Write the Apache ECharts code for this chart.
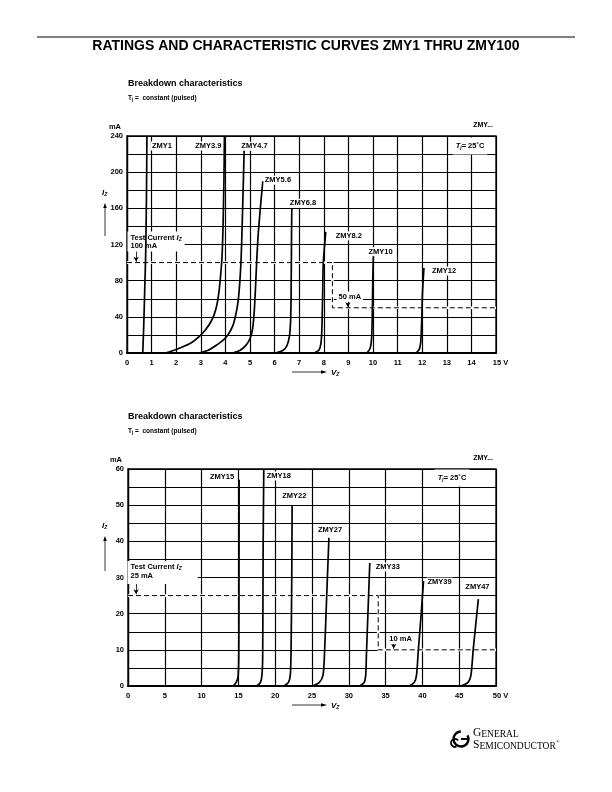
<!DOCTYPE html>
<html><head><meta charset="utf-8">
<script src="https://cdn.jsdelivr.net/npm/echarts@6/dist/echarts.min.js"></script>
<style>html,body{margin:0;padding:0;background:#fff}#c{width:612px;height:792px}</style>
</head><body><div id="c"></div>
<script>
// ---------- data: chart 1 (ZMY1 ... ZMY12), x in V, y in mA ----------
const xTicks1 = [0,1,2,3,4,5,6,7,8,9,10,11,12,13,14,15];
const yTicks1 = [0,40,80,120,160,200,240];
const names1 = ['ZMY1','ZMY3.9','ZMY4.7','ZMY5.6','ZMY6.8','ZMY8.2','ZMY10','ZMY12'];
const ZMY1  = [[0.64,0],[0.68,30],[0.72,70],[0.76,110],[0.79,170],[0.81,240]];
const ZMY3_9 = [[1.55,0],[1.8,2],[2.2,6],[2.6,11],[2.93,18],[3.2,26],[3.4,34],[3.55,43],[3.66,54],[3.74,68],[3.8,84],[3.86,105],[3.9,136],[3.94,190],[3.96,240]];
const ZMY4_7 = [[2.95,0],[3.3,3],[3.6,8],[3.9,14],[4.1,20],[4.3,30],[4.42,42],[4.52,58],[4.59,80],[4.64,105],[4.68,140],[4.73,190],[4.77,232]];
const ZMY5_6 = [[4.3,0],[4.6,3],[4.85,9],[5.0,16],[5.1,26],[5.17,45],[5.22,70],[5.27,100],[5.33,130],[5.42,160],[5.52,190]];
const ZMY6_8 = [[6.05,0],[6.35,3],[6.5,8],[6.6,18],[6.65,35],[6.67,62],[6.69,136],[6.7,160]];
const ZMY8_2 = [[7.6,0],[7.8,3],[7.88,10],[7.92,25],[7.95,60],[7.98,100],[8.08,134]];
const ZMY10 = [[9.75,0],[9.88,5],[9.94,15],[9.97,40],[9.99,80],[10.02,112]];
const ZMY12 = [[11.75,0],[11.88,4],[11.94,12],[11.98,35],[12.01,65],[12.07,94]];
const curves1 = [ZMY1,ZMY3_9,ZMY4_7,ZMY5_6,ZMY6_8,ZMY8_2,ZMY10,ZMY12];
const testCurrent1 = [[0,100],[8.35,100],[8.35,50],[15,50]];

// ---------- data: chart 2 (ZMY15 ... ZMY47) ----------
const xTicks2 = [0,5,10,15,20,25,30,35,40,45,50];
const yTicks2 = [0,10,20,30,40,50,60];
const names2 = ['ZMY15','ZMY18','ZMY22','ZMY27','ZMY33','ZMY39','ZMY47'];
const ZMY15 = [[14.3,0],[14.7,1],[14.95,2.5],[15.05,8],[15.08,30],[15.1,57]];
const ZMY18 = [[17.5,0],[18.0,1],[18.2,3],[18.3,8],[18.36,38],[18.45,60]];
const ZMY22 = [[21.2,0],[21.8,1],[22.05,3],[22.15,9],[22.25,30],[22.3,50]];
const ZMY27 = [[25.1,0],[26.0,1],[26.5,3],[26.7,9],[27.0,25],[27.3,41]];
const ZMY33 = [[31.5,0],[32.1,1],[32.3,3],[32.4,9],[32.6,20],[32.85,34]];
const ZMY39 = [[38.2,0],[38.9,1],[39.2,3],[39.45,10],[39.8,19],[40.15,29]];
const ZMY47 = [[45.2,0],[46.2,1],[46.6,3],[46.9,10],[47.25,17],[47.6,24]];
const curves2 = [ZMY15,ZMY18,ZMY22,ZMY27,ZMY33,ZMY39,ZMY47];
const testCurrent2 = [[0,25],[34,25],[34,10],[50,10]];

// annotation anchors (data units)
const testLabel1 = [0.04,133.8], testArrow1 = [[0.37,113],[0.37,101]];
const reducedLabel1 = [8.54,67.5], reducedArrow1 = [[8.98,57],[8.98,50.6]];
const testLabel2 = [0,34.4], testArrow2 = [[1.1,28.6],[1.1,25.4]];
const reducedLabel2 = [35.3,14.4], reducedArrow2 = [[36.1,12],[36.1,10.3]];

// ---------- style ----------
const F = '"Liberation Sans", Arial, Helvetica, sans-serif';
const SERIF = '"Liberation Serif", "DejaVu Serif", serif';
const lblStyle = {fontFamily:F, fontWeight:'bold', fontSize:7.5, color:'#000'};
const endOff1 = [[4,10,'left'],[-2,10,'right'],[-4,3,'left'],[1,-1,'left'],[-3,-5,'left'],[9,4,'left'],[-6,0,'left'],[7,3,'left']];
const endOff2 = [[-4,-3,'right'],[2,7,'left'],[-11,-9,'left'],[-12,-8,'left'],[5,4,'left'],[3,1,'left'],[-14,-12,'left']];

function curve(name, data, gi, off){
  return {type:'line', name, data, xAxisIndex:gi, yAxisIndex:gi, symbol:'none', showSymbol:false,
    smooth:0.25, z:5, lineStyle:{color:'#000', width:1.7},
    endLabel:{show:true, formatter:'{a}', distance:0, offset:[off[0],off[1]], align:off[2],
      backgroundColor:'#fff', padding:[1,1,0,1], ...lblStyle}};
}
const richIz = {i:{fontStyle:'italic', fontWeight:'bold', fontSize:7.5, fontFamily:F, color:'#000', lineHeight:8.5},
                s:{fontStyle:'italic', fontWeight:'bold', fontSize:5, fontFamily:F, color:'#000', verticalAlign:'bottom', lineHeight:6}};
function boxLabel(coord, text, pad){
  return {coord, symbol:'rect', symbolSize:1, itemStyle:{color:'rgba(0,0,0,0)'},
    label:{show:true, position:[0,0], formatter:text, backgroundColor:'#fff', padding:pad,
      lineHeight:8.5, ...lblStyle, rich:richIz}};
}
// white underlay: the printed test-current line replaces the grid line beneath it
function underlay(data, gi){
  return {type:'line', data, xAxisIndex:gi, yAxisIndex:gi, symbol:'none', z:4, silent:true,
    lineStyle:{color:'#fff', width:2.6}};
}
function dashed(data, gi, labels, arrows){
  return {type:'line', data, xAxisIndex:gi, yAxisIndex:gi, symbol:'none', z:6, silent:true,
    lineStyle:{color:'#000', width:1, type:[5,3]},
    markPoint:{silent:true, data:labels},
    markLine:{silent:true, symbol:['none','arrow'], symbolSize:[4,5], label:{show:false},
      lineStyle:{type:'solid', color:'#000', width:0.8},
      data:arrows.map(a=>[{coord:a[0]},{coord:a[1]}])}};
}
function xAx(gi, max, interval, ticks){
  return {gridIndex:gi, type:'value', min:0, max, interval,
    axisLine:{show:true, onZero:false, lineStyle:{color:'#000', width:2}},
    axisTick:{show:false},
    splitLine:{show:true, lineStyle:{color:'#000', width:1.2}},
    axisLabel:{margin:6, ...lblStyle,
      formatter:v=> !ticks.includes(v) ? '' : (v===max ? '{r|'+v+' V}' : String(v)),
      rich:{r:{...lblStyle, padding:[0,0,0,9]}}}};
}
function yAx(gi, max, interval, ticks){
  return {gridIndex:gi, type:'value', min:0, max, interval,
    name:'mA', nameLocation:'end', nameGap:5,
    nameTextStyle:{...lblStyle, align:'right', padding:[0,6,0,0]},
    axisLine:{show:true, lineStyle:{color:'#000', width:1.3}},
    axisTick:{show:false},
    splitLine:{show:true, lineStyle:{color:'#000', width:1.2}},
    axisLabel:{margin:4, ...lblStyle, formatter:v=> ticks.includes(v) ? String(v) : ''}};
}

const series = [];
series.push(underlay(testCurrent1, 0));
series.push(underlay(testCurrent2, 1));
curves1.forEach((d,i)=>series.push(curve(names1[i], d, 0, endOff1[i])));
curves2.forEach((d,i)=>series.push(curve(names2[i], d, 1, endOff2[i])));
series.push(dashed(testCurrent1, 0,
  [boxLabel(testLabel1, 'Test Current {i|I}{s|Z}\n100 mA', [2,3,1,3]),
   boxLabel(reducedLabel1, '50 mA', [1,2,1,2])],
  [testArrow1, reducedArrow1]));
series.push(dashed(testCurrent2, 1,
  [boxLabel(testLabel2, 'Test Current {i|I}{s|Z}\n25 mA', [2,16,4,3]),
   boxLabel(reducedLabel2, '10 mA', [1,2,1,2])],
  [testArrow2, reducedArrow2]));

// ---------- page-level text & decorations ----------
function txt(x,y,text,font,opt){
  return {type:'text', x, y, z:20, style:Object.assign({text, fill:'#000', font, textAlign:'left', textVerticalAlign:'middle'}, opt||{})};
}
const richTj = {i:{fontStyle:'italic', fontWeight:'bold', fontSize:7.5, fontFamily:F, fill:'#000', lineHeight:9},
                s:{fontStyle:'italic', fontWeight:'bold', fontSize:5, fontFamily:F, fill:'#000', verticalAlign:'bottom', lineHeight:6},
                n:{fontWeight:'bold', fontSize:7.5, fontFamily:F, fill:'#000', lineHeight:9}};
const richSub = {n:{fontWeight:'bold', fontSize:6.5, fontFamily:F, fill:'#000', lineHeight:8},
                 s:{fontWeight:'bold', fontSize:4.5, fontFamily:F, fill:'#000', verticalAlign:'bottom', lineHeight:5}};
const richAx = {i:{fontStyle:'italic', fontWeight:'bold', fontSize:8, fontFamily:F, fill:'#000', lineHeight:9},
                s:{fontStyle:'italic', fontWeight:'bold', fontSize:5, fontFamily:F, fill:'#000', verticalAlign:'bottom', lineHeight:6}};
const richLogo = {b:{fontSize:11.5, fontFamily:SERIF, fill:'#000', lineHeight:12},
                  s:{fontSize:9.5, fontFamily:SERIF, fill:'#000', lineHeight:12, verticalAlign:'bottom'},
                  r:{fontSize:5, fontFamily:SERIF, fill:'#000', verticalAlign:'top', lineHeight:12}};

function upArrow(x, yTop, yBot){
  return [
    {type:'line', z:20, shape:{x1:x, y1:yBot, x2:x, y2:yTop+4}, style:{stroke:'#000', lineWidth:0.8}},
    {type:'polygon', z:20, shape:{points:[[x,yTop],[x-1.8,yTop+5],[x+1.8,yTop+5]]}, style:{fill:'#000'}}
  ];
}
function rightArrow(xL, xR, y){
  return [
    {type:'line', z:20, shape:{x1:xL, y1:y, x2:xR-4, y2:y}, style:{stroke:'#000', lineWidth:0.8}},
    {type:'polygon', z:20, shape:{points:[[xR,y],[xR-6,y-1.8],[xR-6,y+1.8]]}, style:{fill:'#000'}}
  ];
}
function tjLabel(cx, cy){
  return {type:'text', x:cx, y:cy, z:20, style:{text:'{i|T}{s|j}{n|= 25˚C}', rich:richTj, textAlign:'center',
    textVerticalAlign:'middle', backgroundColor:'#fff', padding:[4,3,4,3]}};
}

const graphic = [
  {type:'line', z:20, shape:{x1:37, y1:37, x2:575, y2:37}, style:{stroke:'#000', lineWidth:1}},
  txt(306, 46, 'RATINGS AND CHARACTERISTIC CURVES ZMY1 THRU ZMY100', 'bold 14px '+F, {textAlign:'center'}),
  // chart 1
  txt(128, 84, 'Breakdown characteristics', 'bold 9px '+F),
  {type:'text', x:128, y:98, z:20, style:{text:'{n|T}{s|j}{n| =  constant (pulsed)}', rich:richSub, textVerticalAlign:'middle'}},
  txt(493, 125, 'ZMY...', 'bold 7px '+F, {textAlign:'right'}),
  tjLabel(470, 146),
  {type:'text', x:102, y:193, z:20, style:{text:'{i|I}{s|Z}', rich:richAx, textVerticalAlign:'middle'}},
  ...upArrow(105, 203, 236),
  ...rightArrow(292, 327, 372),
  {type:'text', x:331, y:373, z:20, style:{text:'{i|V}{s|Z}', rich:richAx, textVerticalAlign:'middle'}},
  // chart 2
  txt(128, 417, 'Breakdown characteristics', 'bold 9px '+F),
  {type:'text', x:128, y:431, z:20, style:{text:'{n|T}{s|j}{n| =  constant (pulsed)}', rich:richSub, textVerticalAlign:'middle'}},
  txt(493, 458, 'ZMY...', 'bold 7px '+F, {textAlign:'right'}),
  tjLabel(452, 478),
  {type:'text', x:102, y:526, z:20, style:{text:'{i|I}{s|Z}', rich:richAx, textVerticalAlign:'middle'}},
  ...upArrow(105, 536, 571),
  ...rightArrow(292, 327, 705),
  {type:'text', x:331, y:706, z:20, style:{text:'{i|V}{s|Z}', rich:richAx, textVerticalAlign:'middle'}},
  // logo
  {type:'arc', z:20, shape:{cx:461, cy:739, r:7.5, startAngle:-0.5, endAngle:4.7}, style:{stroke:'#000', lineWidth:2.4, fill:null}},
  {type:'arc', z:20, shape:{cx:455, cy:743, r:4, startAngle:1.2, endAngle:5.6}, style:{stroke:'#000', lineWidth:1.8, fill:null}},
  {type:'line', z:20, shape:{x1:461, y1:739, x2:469, y2:739}, style:{stroke:'#000', lineWidth:2}},
  {type:'text', x:473, y:733, z:20, style:{text:'{b|G}{s|ENERAL}', rich:richLogo, textVerticalAlign:'middle'}},
  {type:'text', x:473, y:745, z:20, style:{text:'{b|S}{s|EMICONDUCTOR}{r|®}', rich:richLogo, textVerticalAlign:'middle'}}
];

const option = {
  animation:false,
  backgroundColor:'#fff',
  grid:[
    {left:127, top:136, width:369, height:217, show:true, borderColor:'#000', borderWidth:1.3, backgroundColor:'#fff'},
    {left:128, top:469, width:368, height:217, show:true, borderColor:'#000', borderWidth:1.3, backgroundColor:'#fff'}
  ],
  xAxis:[xAx(0,15,1,xTicks1), xAx(1,50,5,xTicks2)],
  yAxis:[yAx(0,240,20,yTicks1), yAx(1,60,5,yTicks2)],
  series,
  graphic
};
const chart = echarts.init(document.getElementById('c'), null, {renderer:'canvas'});
chart.setOption(option);
</script>
</body></html>
